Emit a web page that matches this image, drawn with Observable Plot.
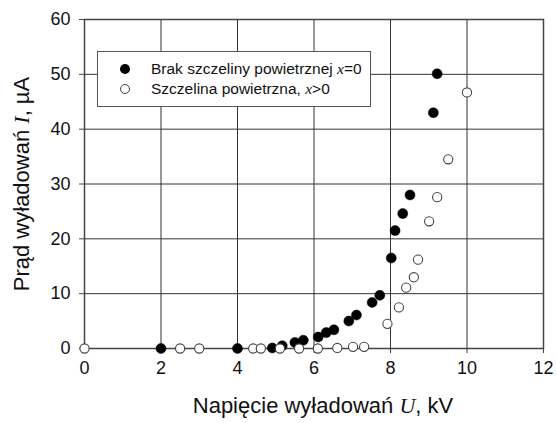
<!DOCTYPE html>
<html><head><meta charset="utf-8">
<script src="https://cdn.jsdelivr.net/npm/d3@7"></script>
<script src="https://cdn.jsdelivr.net/npm/@observablehq/plot@0.6"></script>
<style>
body{margin:0;background:#fff;font-family:"Liberation Sans",Arial,sans-serif;}
#wrap{position:relative;width:557px;height:423px;}
#legend{position:absolute;left:97px;top:51px;width:272px;height:54px;border:1px solid #555;background:#fff;font-size:15.5px;color:#111;}
#legend .row{position:absolute;left:0;height:20px;line-height:20px;}
#legend .sym{position:absolute;left:22px;top:5px;width:10px;height:10px;border-radius:50%;box-sizing:border-box;}
#legend .txt{position:absolute;left:53px;top:0;white-space:nowrap;}
#legend i{font-family:"Liberation Serif",serif;}
</style></head>
<body><div id="wrap"></div>
<script>
// Data: Napięcie U [kV], Prąd I [µA]
const filledU = [2.0, 4.0, 4.91, 5.17, 5.5, 5.72, 6.11, 6.32, 6.52, 6.91, 7.11, 7.52, 7.72, 8.02, 8.12, 8.32, 8.51, 9.12, 9.22];
const filledI = [0, 0, 0.1, 0.5, 1.1, 1.5, 2.1, 2.9, 3.4, 5.0, 6.1, 8.4, 9.7, 16.5, 21.5, 24.6, 28.0, 43.0, 50.1];
const openU = [0, 2.5, 3.0, 4.41, 4.61, 5.11, 5.61, 6.1, 6.61, 7.02, 7.31, 7.92, 8.22, 8.41, 8.61, 8.72, 9.01, 9.22, 9.51, 10.0];
const openI = [0, 0, 0, 0, 0, 0, 0, 0, 0.1, 0.3, 0.3, 4.5, 7.5, 11.1, 13.0, 16.2, 23.2, 27.6, 34.5, 46.7];
const xTicks = [0, 2, 4, 6, 8, 10, 12];
const yTicks = [0, 10, 20, 30, 40, 50, 60];
const seriesNames = ["Brak szczeliny powietrznej ", "Szczelina powietrzna, "];

const filled = filledU.map((u, i) => ({u, v: filledI[i]}));
const open = openU.map((u, i) => ({u, v: openI[i]}));

const plot = Plot.plot({
  width: 557, height: 423,
  marginLeft: 84, marginRight: 14, marginTop: 19, marginBottom: 75,
  style: {fontFamily: "Liberation Sans, Arial, sans-serif", fontSize: "18px", color: "#111", background: "#fff"},
  x: {domain: [0, 12]},
  y: {domain: [0, 60]},
  marks: [
    Plot.gridX(xTicks, {stroke: "#333", strokeOpacity: 1, strokeWidth: 1}),
    Plot.gridY(yTicks, {stroke: "#333", strokeOpacity: 1, strokeWidth: 1}),
    Plot.frame({stroke: "#444", strokeWidth: 1.5}),
    Plot.axisX({ticks: xTicks, tickSize: 5, tickPadding: 8, label: null, fontSize: 18, stroke: "#444"}),
    Plot.axisY({ticks: yTicks, tickSize: 5, tickPadding: 9, label: null, fontSize: 18, stroke: "#444"}),
    Plot.dot(filled, {x: "u", y: "v", r: 5, fill: "#000", stroke: "#000", strokeWidth: 0.5}),
    Plot.dot(open, {x: "u", y: "v", r: 4.6, fill: "#fff", stroke: "#444", strokeWidth: 1.1})
  ]
});
document.getElementById("wrap").appendChild(plot);

const svg = d3.select(plot);
const xl = svg.append("text").attr("x", 323).attr("y", 413).attr("text-anchor", "middle")
  .attr("font-size", 22).attr("fill", "#111").attr("font-family", "Liberation Sans, Arial, sans-serif");
xl.append("tspan").text("Napięcie wyładowań ");
xl.append("tspan").attr("font-family", "Liberation Serif, serif").attr("font-style", "italic").text("U");
xl.append("tspan").text(", kV");

const yl = svg.append("text").attr("transform", "translate(29,184) rotate(-90)").attr("text-anchor", "middle")
  .attr("font-size", 22).attr("fill", "#111").attr("font-family", "Liberation Sans, Arial, sans-serif");
yl.append("tspan").text("Prąd wyładowań ");
yl.append("tspan").attr("font-family", "Liberation Serif, serif").attr("font-style", "italic").text("I");
yl.append("tspan").text(", µA");

// Legend
const leg = document.createElement("div");
leg.id = "legend";
leg.innerHTML =
  `<div class="row" style="top:7px"><span class="sym" style="background:#000"></span><span class="txt">${seriesNames[0]}<i>x</i>=0</span></div>` +
  `<div class="row" style="top:27px"><span class="sym" style="background:#fff;border:1px solid #444"></span><span class="txt">${seriesNames[1]}<i>x</i>&gt;0</span></div>`;
document.getElementById("wrap").appendChild(leg);
</script>
</body></html>
